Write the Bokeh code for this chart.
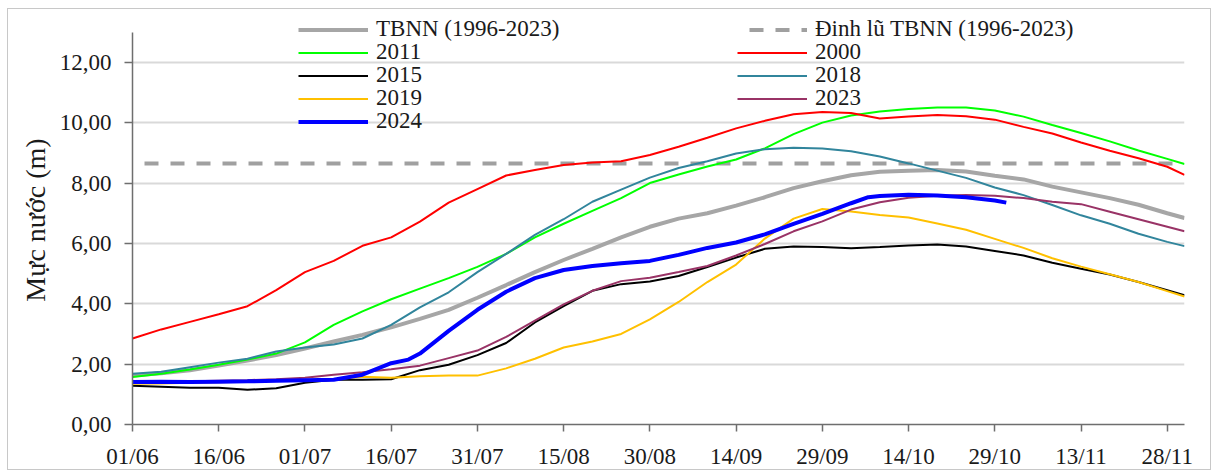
from bokeh.plotting import figure
from bokeh.models import Range1d, FixedTicker, Legend, LegendItem
from bokeh.embed import file_html
from bokeh.resources import INLINE

# ---- data (day index from 01/06) ----
days = [0, 5, 10, 15, 20, 25, 30, 35, 40, 45, 50, 55, 60, 65, 70, 75, 80, 85, 90,
        95, 100, 105, 110, 115, 120, 125, 130, 135, 140, 145, 150, 155, 160, 165,
        170, 175, 180, 183]

tbnn = [1.62, 1.70, 1.80, 1.95, 2.12, 2.30, 2.52, 2.75, 2.97, 3.22, 3.50, 3.80, 4.20,
        4.62, 5.05, 5.45, 5.82, 6.20, 6.55, 6.82, 7.00, 7.25, 7.53, 7.83, 8.06, 8.26,
        8.37, 8.41, 8.43, 8.38, 8.24, 8.12, 7.88, 7.69, 7.50, 7.28, 7.00, 6.84]

y2011 = [1.57, 1.68, 1.82, 1.98, 2.15, 2.35, 2.72, 3.30, 3.75, 4.15, 4.50, 4.85, 5.22,
         5.65, 6.20, 6.65, 7.08, 7.50, 8.00, 8.28, 8.55, 8.78, 9.15, 9.62, 10.00, 10.24,
         10.37, 10.45, 10.50, 10.50, 10.40, 10.20, 9.92, 9.66, 9.38, 9.08, 8.80, 8.63]

y2000 = [2.85, 3.15, 3.40, 3.65, 3.92, 4.45, 5.05, 5.42, 5.92, 6.20, 6.72, 7.35, 7.80,
         8.25, 8.43, 8.60, 8.68, 8.72, 8.93, 9.20, 9.50, 9.81, 10.06, 10.28, 10.35, 10.32,
         10.14, 10.20, 10.25, 10.21, 10.10, 9.86, 9.64, 9.34, 9.07, 8.82, 8.54, 8.27]

y2015 = [1.28, 1.25, 1.22, 1.22, 1.15, 1.20, 1.38, 1.48, 1.48, 1.50, 1.80, 1.98, 2.30,
         2.70, 3.38, 3.92, 4.43, 4.65, 4.74, 4.92, 5.22, 5.53, 5.82, 5.90, 5.88, 5.84,
         5.88, 5.93, 5.96, 5.90, 5.75, 5.60, 5.36, 5.16, 4.97, 4.72, 4.45, 4.28]

y2018 = [1.68, 1.75, 1.90, 2.05, 2.18, 2.42, 2.55, 2.65, 2.85, 3.30, 3.88, 4.38, 5.05,
         5.65, 6.28, 6.80, 7.38, 7.78, 8.18, 8.50, 8.72, 8.98, 9.12, 9.17, 9.14, 9.05,
         8.88, 8.65, 8.41, 8.17, 7.85, 7.60, 7.27, 6.93, 6.65, 6.32, 6.05, 5.91]

y2019 = [1.35, 1.36, 1.38, 1.40, 1.42, 1.44, 1.46, 1.50, 1.58, 1.55, 1.60, 1.62, 1.62,
         1.86, 2.18, 2.55, 2.75, 3.00, 3.48, 4.06, 4.72, 5.30, 6.16, 6.82, 7.14, 7.06,
         6.94, 6.86, 6.66, 6.45, 6.15, 5.85, 5.51, 5.23, 4.98, 4.72, 4.42, 4.24]

y2023 = [1.42, 1.42, 1.43, 1.45, 1.47, 1.50, 1.55, 1.65, 1.73, 1.83, 1.95, 2.20, 2.45,
         2.90, 3.44, 3.98, 4.43, 4.75, 4.86, 5.05, 5.25, 5.60, 5.98, 6.40, 6.73, 7.12,
         7.36, 7.51, 7.58, 7.60, 7.58, 7.50, 7.38, 7.30, 7.05, 6.80, 6.55, 6.40]

days_2024 = [0, 5, 10, 15, 20, 25, 30, 35, 40, 45, 48, 50, 55, 60, 65, 70, 75, 80, 85,
             90, 95, 100, 105, 110, 115, 120, 125, 128, 130, 135, 140, 145, 150, 152]
y2024 = [1.41, 1.42, 1.41, 1.42, 1.43, 1.45, 1.47, 1.48, 1.65, 2.03, 2.15, 2.35, 3.10,
         3.80, 4.40, 4.85, 5.12, 5.25, 5.34, 5.42, 5.62, 5.85, 6.03, 6.30, 6.65, 6.98,
         7.33, 7.53, 7.57, 7.61, 7.59, 7.53, 7.42, 7.35]

dinh_lu = 8.65
x_extent = [0, 183]

tick_days = [0, 15, 30, 45, 60, 75, 90, 105, 120, 135, 150, 165, 180]
tick_labels = ["01/06", "16/06", "01/07", "16/07", "31/07", "15/08", "30/08",
               "14/09", "29/09", "14/10", "29/10", "13/11", "28/11"]
y_ticks = [0, 2, 4, 6, 8, 10, 12]
y_tick_labels = ["0,00", "2,00", "4,00", "6,00", "8,00", "10,00", "12,00"]
y_axis_max = 13

FONT = "Liberation Serif"
TXT = "#1a1a1a"

p = figure(width=1204, height=462, x_range=Range1d(0, 183),
           y_range=Range1d(0, 13.55),
           output_backend="svg", toolbar_location=None,
           min_border_left=124, min_border_right=28, min_border_top=6,
           min_border_bottom=45)
p.styles = {"border": "1px solid #c8c8c8", "margin": "8px 0 0 7px"}
p.outline_line_color = None
p.background_fill_color = "white"

# axes
p.xaxis.ticker = FixedTicker(ticks=tick_days)
p.xaxis.major_label_overrides = {d: l for d, l in zip(tick_days, tick_labels)}
p.yaxis.ticker = FixedTicker(ticks=y_ticks)
p.yaxis.major_label_overrides = {v: l for v, l in zip(y_ticks, y_tick_labels)}
p.yaxis.bounds = (0, y_axis_max)
for ax in (p.xaxis[0], p.yaxis[0]):
    ax.axis_line_color = "#6e6e6e"
    ax.axis_line_width = 1.5
    ax.major_tick_line_color = "#6e6e6e"
    ax.major_tick_line_width = 1.5
    ax.major_tick_in = 0
    ax.major_tick_out = 8
    ax.minor_tick_line_color = None
    ax.major_label_text_font = FONT
    ax.major_label_text_font_size = "23px"
    ax.major_label_text_color = TXT
p.xaxis.major_tick_out = 7
p.xaxis.major_label_standoff = 12
p.yaxis.major_label_standoff = 13
p.yaxis.axis_label = "Mực nước (m)"
p.yaxis.axis_label_text_font = FONT
p.yaxis.axis_label_text_font_size = "28px"
p.yaxis.axis_label_text_font_style = "normal"
p.yaxis.axis_label_text_color = TXT
p.yaxis.axis_label_standoff = 6

p.xgrid.grid_line_color = None
p.ygrid.ticker = FixedTicker(ticks=y_ticks[1:])
p.ygrid.grid_line_color = "#d9d9d9"
p.ygrid.grid_line_width = 2

# series
r_tbnn = p.line(days, tbnn, line_color="#a6a6a6", line_width=4)
r_dinh = p.line(x_extent, [dinh_lu, dinh_lu], line_color="#a0a0a0", line_width=4,
                line_dash="14 12", line_dash_offset=14)
r_2011 = p.line(days, y2011, line_color="#00ff00", line_width=2)
r_2000 = p.line(days, y2000, line_color="#ff0000", line_width=2)
r_2015 = p.line(days, y2015, line_color="#000000", line_width=2)
r_2018 = p.line(days, y2018, line_color="#31859c", line_width=2)
r_2019 = p.line(days, y2019, line_color="#ffc000", line_width=2)
r_2023 = p.line(days, y2023, line_color="#993366", line_width=2)
r_2024 = p.line(days_2024, y2024, line_color="#0000ff", line_width=4)


def add_legend_item(label, renderer, col, row):
    x = 166 if col == 0 else 605
    y = 382 - 23 * row
    lg = Legend(items=[LegendItem(label=label, renderers=[renderer])],
                location=(x, y), orientation="vertical")
    lg.label_text_font = FONT
    lg.label_text_font_size = "23px"
    lg.label_text_color = TXT
    lg.glyph_width = 70
    lg.glyph_height = 25
    lg.label_standoff = 8
    lg.spacing = 0
    lg.padding = 0
    lg.margin = 0
    lg.border_line_color = None
    lg.background_fill_alpha = 0
    p.add_layout(lg)


add_legend_item("TBNN (1996-2023)", r_tbnn, 0, 0)
add_legend_item("2011", r_2011, 0, 1)
add_legend_item("2015", r_2015, 0, 2)
add_legend_item("2019", r_2019, 0, 3)
add_legend_item("2024", r_2024, 0, 4)
add_legend_item("Đinh lũ TBNN (1996-2023)", r_dinh, 1, 0)
add_legend_item("2000", r_2000, 1, 1)
add_legend_item("2018", r_2018, 1, 2)
add_legend_item("2023", r_2023, 1, 3)

open("out.html", "w").write(file_html(p, INLINE))
